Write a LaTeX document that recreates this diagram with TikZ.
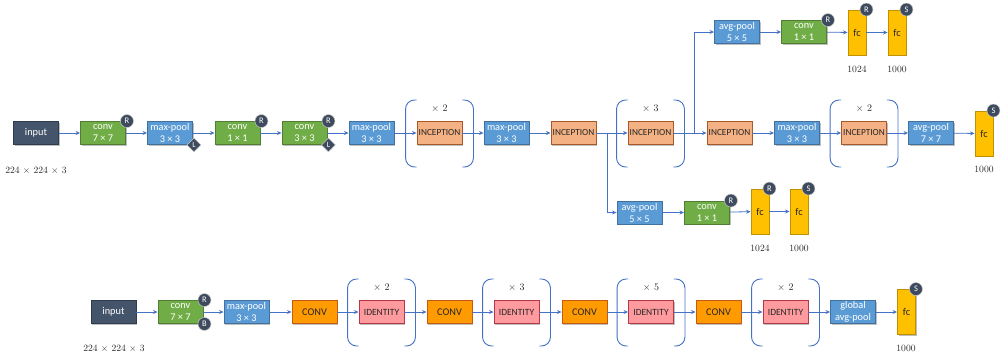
\documentclass[tikz,border=0pt]{standalone}
\usepackage{fontspec}
\newfontfamily\boxfont{Carlito}
\usetikzlibrary{arrows.meta,calc,shapes.geometric,shadows}
\definecolor{inF}{HTML}{44546A}\definecolor{inD}{HTML}{2F3C4E}
\definecolor{gnF}{HTML}{70AD47}\definecolor{gnD}{HTML}{507E32}
\definecolor{blF}{HTML}{5B9BD5}\definecolor{blD}{HTML}{41719C}
\definecolor{icF}{HTML}{F4B183}\definecolor{icD}{HTML}{A8592A}
\definecolor{cvF}{HTML}{FF9A00}\definecolor{cvD}{HTML}{C55A11}
\definecolor{idF}{HTML}{FF9B9E}\definecolor{idD}{HTML}{B5384A}
\definecolor{fcF}{HTML}{FFC000}\definecolor{fcD}{HTML}{BF9000}
\definecolor{lnC}{HTML}{4472C4}
\definecolor{bgC}{HTML}{3E4B5E}
\definecolor{txD}{HTML}{262626}
\tikzset{
  blk/.style={draw, line width=0.9pt, minimum width=45pt, minimum height=23pt,
    inner sep=0pt, align=center, font=\boxfont\fontsize{10.3}{12}\selectfont,
    drop shadow={shadow xshift=1pt,shadow yshift=-1pt,opacity=0.25,fill=black}},
  inbox/.style={blk, fill=inF, draw=inD, text=white},
  convbox/.style={blk, fill=gnF, draw=gnD, text=white},
  poolbox/.style={blk, fill=blF, draw=blD, text=white},
  incbox/.style={blk, fill=icF, draw=icD, text=txD, font=\boxfont\fontsize{9.3}{10}\selectfont},
  cvbox/.style={blk, fill=cvF, draw=cvD, text=txD},
  idbox/.style={blk, fill=idF, draw=idD, text=txD, font=\boxfont\fontsize{9.5}{10}\selectfont},
  fcbox/.style={blk, fill=fcF, draw=fcD, text=txD, minimum width=18pt, minimum height=45pt},
  badge/.style={circle, fill=bgC, draw=gray!40, line width=0.5pt, minimum size=13pt, inner sep=0pt,
    text=white, font=\boxfont\fontsize{8.5}{9}\selectfont},
  dbadge/.style={diamond, fill=bgC, draw=gray!40, line width=0.5pt, minimum size=14pt, inner sep=0pt,
    text=white, font=\boxfont\fontsize{8}{9}\selectfont},
  arr/.style={draw=lnC, line width=0.8pt, -{Stealth[length=4.5pt,width=4pt]}},
  brk/.style={draw=lnC, line width=0.9pt, rounded corners=9pt},
  dim/.style={font=\fontsize{9.6}{11}\selectfont, text=txD},
  mult/.style={font=\fontsize{10}{11}\selectfont, text=txD}
}
\newcommand\mybrk[2]{%
  \draw[brk] ($(#1.west)+(0,-33)$) -- ($(#1.west)+(-11,-33)$) -- ($(#1.west)+(-11,34)$) -- ($(#1.west)+(0,34)$);
  \draw[brk] ($(#1.east)+(0,-33)$) -- ($(#1.east)+(11,-33)$) -- ($(#1.east)+(11,34)$) -- ($(#1.east)+(0,34)$);
  \node[mult] (#1m) at ($(#1.center)+(0,-25)$) {× #2};}
\begin{document}
\begin{tikzpicture}[x=1pt,y=-1pt]
\useasboundingbox (0,0) rectangle (1005,360);
% ---------- top network ----------
\node[inbox] (in1) at (36,133) {input};
\node[convbox] (c1) at (103,133) {conv\\7 × 7};
\node[poolbox] (mp1) at (170,133) {max-pool\\3 × 3};
\node[convbox] (c2) at (237.5,133) {conv\\1 × 1};
\node[convbox] (c3) at (304.5,133) {conv\\3 × 3};
\node[poolbox] (mp2) at (371.5,133) {max-pool\\3 × 3};
\node[incbox] (inc1) at (439.5,133) {INCEPTION};
\node[poolbox] (mp3) at (506.5,133) {max-pool\\3 × 3};
\node[incbox] (inc2) at (573.5,133) {INCEPTION};
\node[incbox] (inc3) at (650.5,133) {INCEPTION};
\node[incbox] (inc4) at (729.5,133) {INCEPTION};
\node[poolbox] (mp4) at (797,133) {max-pool\\3 × 3};
\node[incbox] (inc5) at (864,133) {INCEPTION};
\node[poolbox] (ap1) at (931,133) {avg-pool\\7 × 7};
\node[fcbox] (fc1) at (984,133.5) {fc};
\node[dim] (d1) at (36,170) {224 × 224 × 3};
\node[dim] (n1) at (984,169) {1000};
\node[badge] (c1R) at ([xshift=1pt]c1.north east) {R};
\node[dbadge] (mp1L) at ([xshift=1pt]mp1.south east) {L};
\node[badge] (c2R) at ([xshift=1pt]c2.north east) {R};
\node[badge] (c3R) at ([xshift=1pt]c3.north east) {R};
\node[dbadge] (c3L) at ([xshift=1pt]c3.south east) {L};
\node[badge] (fc1S) at (fc1.north east) {S};
\mybrk{inc1}{2}
\mybrk{inc3}{3}
\mybrk{inc5}{2}
% upper branch
\node[poolbox] (ap2) at (737,32) {avg-pool\\5 × 5};
\node[convbox] (c4) at (804,32) {conv\\1 × 1};
\node[fcbox] (fc2) at (857,32.5) {fc};
\node[fcbox] (fc3) at (897,32.5) {fc};
\node[badge] (c4R) at ([xshift=1pt]c4.north east) {R};
\node[badge] (fc2R) at (fc2.north east) {R};
\node[badge] (fc3S) at (fc3.north east) {S};
\node[dim] (n2) at (857,69) {1024};
\node[dim] (n3) at (897,69) {1000};
% lower branch
\node[poolbox] (ap3) at (639.5,212.5) {avg-pool\\5 × 5};
\node[convbox] (c5) at (707,212.5) {conv\\1 × 1};
\node[fcbox] (fc4) at (760,211.5) {fc};
\node[fcbox] (fc5) at (799,211.5) {fc};
\node[badge] (c5R) at ([xshift=1pt]c5.north east) {R};
\node[badge] (fc4R) at (fc4.north east) {R};
\node[badge] (fc5S) at (fc5.north east) {S};
\node[dim] (n4) at (760,248) {1024};
\node[dim] (n5) at (799,248) {1000};
% connectors
\draw[arr] (in1) -- (c1);
\draw[arr] (c1) -- (mp1);
\draw[arr] (mp1) -- (c2);
\draw[arr] (c2) -- (c3);
\draw[arr] (c3) -- (mp2);
\draw[arr] (mp2) -- (inc1);
\draw[arr] (inc1) -- (mp3);
\draw[arr] (mp3) -- (inc2);
\draw[arr] (inc2) -- (inc3);
\draw[arr] (inc3) -- (inc4);
\draw[arr] (inc4) -- (mp4);
\draw[arr] (mp4) -- (inc5);
\draw[arr] (inc5) -- (ap1);
\draw[arr] (ap1) -- (fc1);
\coordinate (b1) at ($(inc2.east)+(11,0)$);
\coordinate (b2) at ($(inc3.east)+(21,0)$);
\draw[arr] (b1) |- (ap3.west);
\draw[arr] (b2) |- (ap2.west);
\draw[arr] (ap2) -- (c4);
\draw[arr] (c4) -- (fc2);
\draw[arr] (fc2) -- (fc3);
\draw[arr] (ap3) -- (c5);
\draw[arr] (c5) -- (fc4);
\draw[arr] (fc4) -- (fc5);
% ---------- bottom network ----------
\node[inbox] (in2) at (113.5,312) {input};
\node[convbox] (c6) at (180.5,312) {conv\\7 × 7};
\node[poolbox] (mp5) at (246.5,312) {max-pool\\3 × 3};
\node[cvbox] (cv1) at (314.5,312) {CONV};
\node[idbox] (id1) at (381.5,312) {IDENTITY};
\node[cvbox] (cv2) at (449.5,312) {CONV};
\node[idbox] (id2) at (516.5,312) {IDENTITY};
\node[cvbox] (cv3) at (584.5,312) {CONV};
\node[idbox] (id3) at (651,312) {IDENTITY};
\node[cvbox] (cv4) at (718.5,312) {CONV};
\node[idbox] (id4) at (785.5,312) {IDENTITY};
\node[poolbox] (gap) at (853,312) {global\\avg-pool};
\node[fcbox] (fc6) at (906.5,312) {fc};
\node[badge] (c6R) at ([xshift=1pt]c6.north east) {R};
\node[badge] (c6B) at ([xshift=1pt]c6.south east) {B};
\node[badge] (fc6S) at (fc6.north east) {S};
\node[dim] (d2) at (114,348) {224 × 224 × 3};
\node[dim] (n6) at (906,348) {1000};
\mybrk{id1}{2}
\mybrk{id2}{3}
\mybrk{id3}{5}
\mybrk{id4}{2}
\draw[arr] (in2) -- (c6);
\draw[arr] (c6) -- (mp5);
\draw[arr] (mp5) -- (cv1);
\draw[arr] (cv1) -- (id1);
\draw[arr] (id1) -- (cv2);
\draw[arr] (cv2) -- (id2);
\draw[arr] (id2) -- (cv3);
\draw[arr] (cv3) -- (id3);
\draw[arr] (id3) -- (cv4);
\draw[arr] (cv4) -- (id4);
\draw[arr] (id4) -- (gap);
\draw[arr] (gap) -- (fc6);
\end{tikzpicture}
\end{document}
